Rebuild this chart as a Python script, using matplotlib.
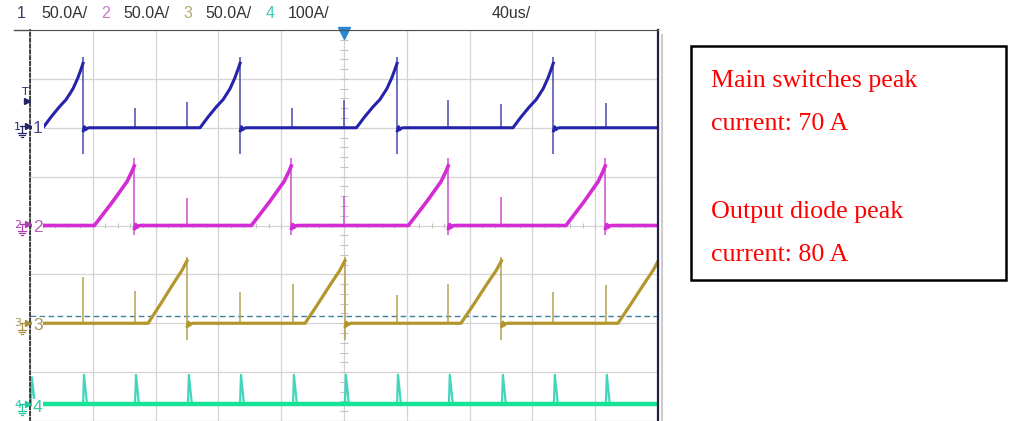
import numpy as np
import matplotlib
matplotlib.use('Agg')
import matplotlib.pyplot as plt
from matplotlib.patches import Rectangle

# ---- values (time in us, current in A) ----
ch_names = ['1', '2', '3', '4']
ch_scale = [50.0, 50.0, 50.0, 100.0]          # A/div
ch_offset = [2.0, 0.0, -2.0, -3.655]          # div from screen centre
ch_colors = ['#2424aa', '#d42cd4', '#b3962c', '#16e398']
spike_colors = ['#4a4ab0', '#d050d0', '#b8a050', '#44d6bc']
header_values = ['50.0A/', '50.0A/', '50.0A/', '100A/']
timebase = '40us/'

# ch1 - main switch current
ch1_ramp_start = [8.3, 108.3, 207.9, 307.6]
ch1_peak = [33.8, 133.8, 233.8, 333.3]
ch1_ramp_frac = [0, 0.2, 0.4, 0.58, 0.75, 0.87, 0.95, 1.0]
ch1_ramp_amp = [0, 11, 21, 29, 40, 51, 60, 66]
ch1_peak_spike = 72
ch1_drop_dip = -27
ch1_spike_t = [66.9, 100.0, 166.8, 200.0, 266.2, 300.0, 366.8]
ch1_spike_h = [20, 26, 20, 28, 28, 24, 25]

# ch2
ch2_ramp_start = [41.0, 141.0, 241.0, 341.4]
ch2_peak = [66.4, 166.4, 266.4, 366.4]
ch2_ramp_frac = [0, 0.47, 0.82, 0.95, 1.0]
ch2_ramp_amp = [0, 25, 45, 56, 61]
ch2_peak_spike = 69
ch2_drop_dip = -10
ch2_spike_t = [100.0, 200.0, 300.0]
ch2_spike_h = [28, 30, 29]

# ch3
ch3_ramp_start = [75.2, 175.2, 274.5, 374.5]
ch3_peak = [100.0, 200.6, 300.3, 400.2]
ch3_ramp_frac = [0, 0.31, 0.64, 0.87, 1.0]
ch3_ramp_amp = [0, 19, 40, 54, 64]
ch3_peak_spike = 68
ch3_drop_dip = -17
ch3_spike_t = [33.8, 66.9, 133.8, 167.5, 233.8, 266.2, 333.1, 366.8]
ch3_spike_h = [47, 33, 32, 40, 29, 40, 32, 39]
ch3_trig_level = 7

# ch4 - output diode current pulses
ch4_pulse_t = [0.6, 33.8, 66.9, 100.6, 133.8, 167.5, 200.6, 233.8, 266.8, 300.6, 333.7, 366.8]
ch4_pulse_h = [55, 60, 60, 60, 60, 60, 60, 60, 60, 60, 60, 60]

# ringing after turn-off (time after drop, A)
ring_dt = [0.2, 0.9, 1.7, 2.6, 4.0]
ring_amp = [-3, 1, -2, -0.5, 0]

note_lines = ['Main switches peak', 'current: 70 A', 'Output diode peak', 'current: 80 A']
note_baseline_px = [87, 130, 218, 261]


def build(ramp_start, peak, frac, amp, peak_spike, dip, spike_t, spike_h, t0=0.0, t1=401.0):
    """thick trace path (broken at each turn-off) + thin vertical strokes"""
    tt, aa = [t0], [0.0]
    vx, vlo, vhi = [], [], []
    for start, v in zip(ramp_start, peak):
        for f, y in zip(frac, amp):
            tt.append(start + f * (v - start))
            aa.append(y)
        tt.append(np.nan)
        aa.append(np.nan)
        for dt, r in zip(ring_dt, ring_amp):
            tt.append(v + dt)
            aa.append(r)
        vx.append(v)
        vlo.append(dip)
        vhi.append(peak_spike)
    tt.append(t1)
    aa.append(0)
    for t, h in zip(spike_t, spike_h):
        vx.append(t)
        vlo.append(0)
        vhi.append(h)
    return np.array(tt), np.array(aa), vx, vlo, vhi


def build_pulses(pt, ph):
    tt, aa = [], []
    for p, h in zip(pt, ph):
        tt += [p, p + 0.6, p + 2.5, np.nan]
        aa += [0, h, 0, np.nan]
    return np.array(tt), np.array(aa)


traces = [
    build(ch1_ramp_start, ch1_peak, ch1_ramp_frac, ch1_ramp_amp, ch1_peak_spike, ch1_drop_dip, ch1_spike_t, ch1_spike_h),
    build(ch2_ramp_start, ch2_peak, ch2_ramp_frac, ch2_ramp_amp, ch2_peak_spike, ch2_drop_dip, ch2_spike_t, ch2_spike_h),
    build(ch3_ramp_start, ch3_peak, ch3_ramp_frac, ch3_ramp_amp, ch3_peak_spike, ch3_drop_dip, ch3_spike_t, ch3_spike_h),
]
line_w = [2.2, 2.6, 2.3]

W, H = 1013, 421
fig = plt.figure(figsize=(W / 100, H / 100), dpi=100)
fig.patch.set_facecolor('white')

# scope screen: 10 x 8 div, bottom cut off by the picture
ax = fig.add_axes([30 / W, 0, 628 / W, 391 / H])
ax.set_xlim(0, 400)
ax.set_ylim(-3.94, 4)
ax.set_xticks(np.arange(0, 401, 40))
ax.set_yticks(np.arange(-4, 5, 1))
ax.grid(color='#d4d4d4', lw=0.9)
ax.tick_params(length=0, labelbottom=False, labelleft=False)
ax.vlines(np.arange(0, 401, 8), -0.06, 0.06, color='#c4c4c4', lw=0.8)
ax.hlines(np.arange(-4, 4.01, 0.2), 197.5, 202.5, color='#c4c4c4', lw=0.8)
ax.spines['bottom'].set_visible(False)
ax.spines['top'].set_color('#505050')
ax.spines['right'].set_color('#222244')
ax.spines['right'].set_linewidth(1.6)
ax.spines['left'].set_color('#222222')
ax.spines['left'].set_linestyle((0, (2, 1.5)))
ax.spines['left'].set_linewidth(1.2)

ax.axhline(ch_offset[2] + ch3_trig_level / ch_scale[2], color='#3f7f9f', ls=(0, (4, 2.5)), lw=1.0)

for (tt, aa, vx, vlo, vhi), off, sc, c, sc_c, lw in zip(traces, ch_offset, ch_scale, ch_colors, spike_colors, line_w):
    ax.vlines(vx, off + np.array(vlo) / sc, off + np.array(vhi) / sc, color=sc_c, lw=1.1)
    ax.plot(tt, off + aa / sc, color=c, lw=lw)

# ch4: thick baseline and thin pulses
pt, pa = build_pulses(ch4_pulse_t, ch4_pulse_h)
ax.plot(pt, ch_offset[3] + pa / ch_scale[3], color=spike_colors[3], lw=1.6)
ax.axhline(ch_offset[3], color=ch_colors[3], lw=3.2)

ax.plot([200], [3.93], marker='v', ms=8, color='#2a86d6', clip_on=False)

# overlay in pixel coordinates for the decorations
ov = fig.add_axes([0, 0, 1, 1])
ov.set_xlim(0, W)
ov.set_ylim(H, 0)
ov.axis('off')
ov.patch.set_alpha(0)

sans = ['Liberation Sans', 'DejaVu Sans']
ov.plot([14, 30], [30, 30], color='#505050', lw=1.0)
ov.plot([662, 662], [35, H], color='#cccccc', lw=1.5)

# header
hdr_num_x = [17, 101, 183, 266]
hdr_val_x = [41, 123, 205, 288]
hdr_num_c = ['#3a3a6a', '#c77bc7', '#b5a868', '#3cc8b4']
for n, v, xn, xv, c in zip(ch_names, header_values, hdr_num_x, hdr_val_x, hdr_num_c):
    ov.text(xn, 14, n, color=c, fontsize=11.5, va='center', family=sans)
    ov.text(xv, 14, v, color='#333333', fontsize=11.5, va='center', family=sans)
ov.text(492, 14, timebase, color='#333333', fontsize=11.5, va='center', family=sans)

# trigger marker
ov.text(22, 92, 'T', color='#24246a', fontsize=8, va='center')
ov.plot([27], [101], marker='>', ms=5, color='#24246a')

lab_c = ['#4a4a8a', '#b066b0', '#a8965a', '#2ccfa6']
mark_c = ['#24246a', '#b040b0', '#a89040', '#20c8a0']
for n, off, lc, mc in zip(ch_names, ch_offset, lab_c, mark_c):
    y = 227 - off * 49.25
    ov.text(33, y, n, color=lc, fontsize=12.5, va='center', family=sans,
            bbox=dict(facecolor='white', edgecolor='none', pad=0.6))
    ov.text(14, y - 2, n, color=mc, fontsize=8, va='center')
    ov.plot([20, 25], [y - 3, y - 3], color=mc, lw=0.9)
    ov.plot([22, 22], [y - 3, y + 4], color=mc, lw=0.9)
    for k, hw in enumerate([4, 2.6, 1.2]):
        ov.plot([22 - hw, 22 + hw], [y + 4 + 2 * k, y + 4 + 2 * k], color=mc, lw=0.9)
    ov.plot([27.5], [y - 3], marker='>', ms=4, color=mc)

# annotation box
ov.add_patch(Rectangle((690.5, 46), 315.5, 233.5, facecolor='white', edgecolor='black', lw=1.8))
for s, yb in zip(note_lines, note_baseline_px):
    ov.text(711, yb, s, color='#ff0000', fontsize=18.7, va='baseline',
            family=['Liberation Serif', 'DejaVu Serif'])

fig.savefig('out.png', dpi=100)
